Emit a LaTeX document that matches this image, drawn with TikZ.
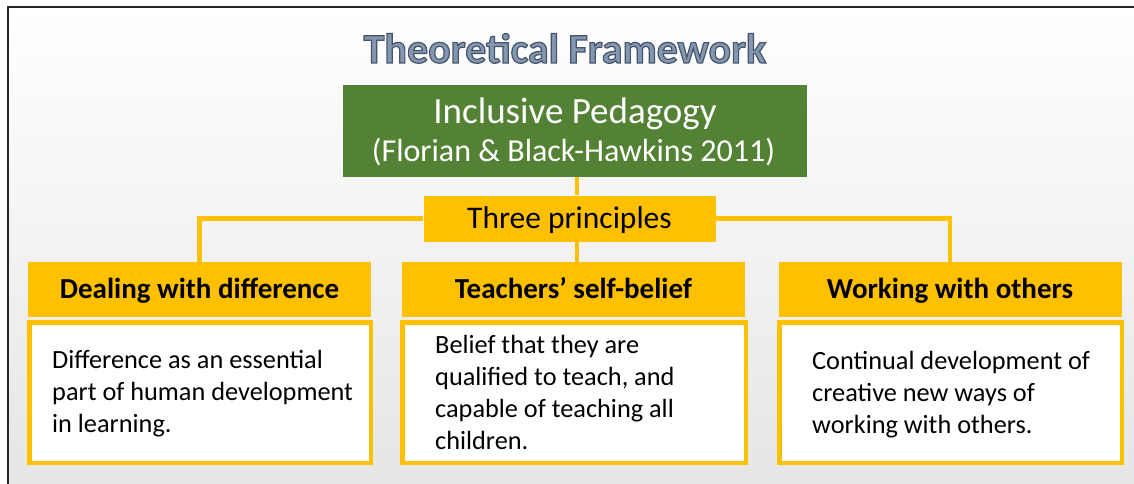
\documentclass[tikz,border=0pt]{standalone}
\usepackage{fontspec}
\setmainfont{Carlito}
\usetikzlibrary{calc}
\definecolor{pgreen}{HTML}{548235}
\definecolor{pgold}{HTML}{FFC000}
\definecolor{ptitle}{HTML}{8497B0}
\newcommand\outlinedtext[1]{\special{pdf:literal 2 Tr 1.2 w 0.27 0.33 0.42 RG}#1\special{pdf:literal 0 Tr}}
\tikzset{
  greenbox/.style={fill=pgreen, minimum width=464pt, minimum height=92pt, inner sep=0pt},
  greentext/.style={text=white, inner sep=0pt, anchor=base},
  tpbox/.style={fill=pgold, minimum width=292pt, minimum height=46pt, inner sep=0pt,
    text height=24pt, text depth=5pt, font=\fontsize{31.5}{36}\selectfont},
  headbox/.style={fill=pgold, minimum width=343pt, minimum height=55pt, inner sep=0pt,
    text height=22pt, text depth=5pt, font=\bfseries\fontsize{29}{34}\selectfont},
  bodybox/.style={draw=pgold, fill=white, line width=4.5pt, minimum height=140.5pt, inner sep=0pt},
  bodytext/.style={anchor=west, align=left, inner sep=0pt, font=\fontsize{26.3}{32}\selectfont},
  conn/.style={draw=pgold, line width=4.5pt},
}
\begin{document}
\begin{tikzpicture}[x=1pt,y=1pt]
\useasboundingbox (0,0) rectangle (1134,-484);
% background
\shade[top color=white, bottom color=gray!20] (8,-7) rectangle (1134,-484);
\draw[line width=2.2pt, black!85] (1134,-7) -- (8,-7) -- (8,-484);
% title
\node[inner sep=0pt, text=ptitle, font=\bfseries\fontsize{42}{46}\selectfont, anchor=base] (title) at (565,-63) {\outlinedtext{Theoretical Framework}};
% main box
\node[greenbox] (ip) at (574.5,-131) {};
\node[greentext, font=\fontsize{37}{40}\selectfont] (ip1) at (575,-124) {Inclusive Pedagogy};
\node[greentext, font=\fontsize{32}{36}\selectfont] (ip2) at (573.5,-161) {(Florian \& Black-Hawkins 2011)};
\node[tpbox] (tp) at (569.5,-218.5) {Three principles};
\coordinate (mid) at (577,0);
% headers
\node[headbox] (h1) at (199.5,-289.5) {Dealing with difference};
\node[headbox] (h2) at (573.5,-289.5) {Teachers’ self-belief};
\node[headbox] (h3) at (950,-289.5) {Working with others};
% bodies
\node[bodybox, minimum width=341.5pt] (b1) at (200,-392.5) {};
\node[bodybox, minimum width=343.5pt] (b2) at (574,-392.5) {};
\node[bodybox, minimum width=342.5pt] (b3) at (950.5,-392.5) {};
\node[bodytext] (t1) at ($(b1.west)+(25,-1.5)$) {Difference as an essential\\part of human development\\in learning.};
\node[bodytext] (t2) at ($(b2.west)+(35,0)$) {Belief that they are\\qualified to teach, and\\capable of teaching all\\children.};
\node[bodytext] (t3) at ($(b3.west)+(35,-2)$) {Continual development of\\creative new ways of\\working with others.};
% connectors
\draw[conn] (ip.south -| mid) -- (tp.north -| mid);
\draw[conn] (tp.south -| mid) -- (h2.north -| mid);
\draw[conn] (tp.west) -| (h1.north);
\draw[conn] (tp.east) -| (h3.north);
\end{tikzpicture}
\end{document}
